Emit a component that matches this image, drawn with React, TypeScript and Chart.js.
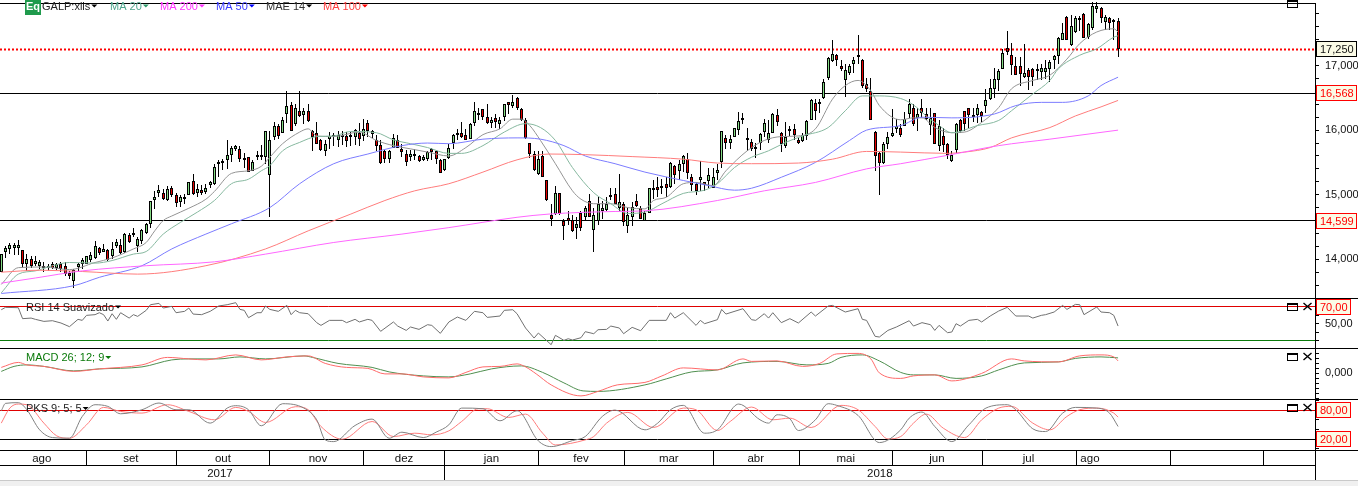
import React, { useEffect, useRef } from "react";
import { Chart, registerables } from "chart.js";

Chart.register(...registerables);

// ---- candles (Galp, daily, one entry per session) ----
const open = [
13.80,14.11,14.16,14.17,14.18,14.14,13.92,14.00,13.93,13.90,
13.90,13.86,13.93,13.87,13.92,13.89,13.78,13.66,13.88,13.93,
13.93,13.99,14.02,14.17,14.12,14.14,14.05,14.20,14.22,14.11,
14.38,14.37,14.20,14.28,14.40,14.55,14.92,15.02,15.02,14.92,
15.10,15.00,14.89,14.93,15.00,15.21,15.03,15.07,15.04,15.15,
15.17,15.48,15.49,15.54,15.62,15.70,15.71,15.53,15.59,15.37,
15.58,15.58,15.58,15.31,15.90,16.07,15.96,16.25,16.39,16.10,
16.30,16.24,16.30,15.99,15.95,15.85,15.67,15.86,15.89,15.85,
15.89,15.91,15.89,15.89,15.96,15.91,16.11,15.94,15.85,15.77,
15.67,15.56,15.73,15.85,15.71,15.63,15.59,15.60,15.60,15.54,
15.55,15.70,15.68,15.54,15.39,15.57,15.80,15.93,15.96,15.93,
15.87,16.11,16.24,16.32,16.21,16.11,16.19,16.09,16.20,16.43,
16.37,16.50,16.33,16.16,15.80,15.63,15.32,15.60,15.22,14.69,
14.70,15.02,14.59,14.64,14.61,14.48,14.72,14.65,14.90,14.45,
14.60,14.74,14.76,14.96,15.01,14.79,14.86,14.51,14.65,14.90,
14.80,14.60,14.72,15.11,15.12,15.10,15.17,15.12,15.44,15.36,
15.48,15.56,15.27,15.17,15.22,15.20,15.21,15.10,15.34,15.50,
15.88,15.80,15.89,16.00,16.16,15.88,15.82,15.71,15.80,15.97,
15.84,15.96,16.24,15.96,15.75,15.98,16.01,15.85,15.83,15.91,
16.16,16.42,16.41,16.49,16.80,17.07,17.16,16.99,16.78,16.88,
17.02,17.13,17.09,16.72,16.61,15.97,15.65,15.49,15.78,15.91,
16.02,16.04,16.07,16.25,16.34,16.19,16.35,16.25,16.08,16.26,
15.76,15.91,15.79,15.52,15.69,16.16,16.30,16.34,16.23,16.23,
16.28,16.38,16.48,16.64,16.78,16.95,17.27,17.16,16.99,16.99,
16.82,16.93,16.94,16.91,16.90,16.90,16.95,17.09,17.15,17.40,
17.75,17.32,17.52,17.71,17.80,17.45,17.58,17.88,17.89,17.67,
17.74,17.67,17.69];
const high = [
14.08,14.21,14.25,14.25,14.30,14.14,14.08,14.05,14.05,13.99,
13.95,13.93,13.95,13.94,13.95,13.95,13.82,13.85,13.94,14.02,
14.05,14.11,14.29,14.19,14.24,14.16,14.26,14.31,14.31,14.40,
14.40,14.48,14.34,14.47,14.56,14.91,15.06,15.15,15.09,15.14,
15.14,15.02,14.99,15.01,15.20,15.32,15.16,15.15,15.17,15.21,
15.48,15.54,15.55,15.84,15.75,15.77,15.75,15.65,15.59,15.53,
15.68,15.77,15.98,15.98,16.12,16.10,16.20,16.61,16.44,16.40,
16.60,16.34,16.41,16.00,16.13,15.87,15.85,15.97,15.95,15.98,
15.99,15.97,15.97,16.02,16.11,16.17,16.16,16.00,15.93,15.84,
15.69,15.69,15.94,15.92,15.79,15.69,15.69,15.70,15.62,15.62,
15.67,15.72,15.69,15.55,15.56,15.79,15.94,16.01,16.12,16.02,
16.11,16.43,16.35,16.33,16.41,16.21,16.25,16.21,16.41,16.43,
16.55,16.51,16.34,16.19,15.80,15.67,15.68,15.68,15.22,14.86,
15.14,15.02,14.62,14.74,14.69,14.66,14.75,14.82,15.01,14.80,
14.96,14.91,14.96,15.11,15.11,15.32,14.88,14.80,14.88,15.01,
14.82,14.75,15.11,15.23,15.28,15.25,15.27,15.50,15.46,15.53,
15.61,15.65,15.32,15.19,15.52,15.20,15.41,15.42,15.47,15.99,
15.92,15.92,16.04,16.28,16.27,16.04,15.86,15.80,15.95,16.17,
16.15,16.26,16.33,15.97,16.13,16.06,16.09,15.88,15.95,16.15,
16.48,16.48,16.48,16.79,17.13,17.39,17.18,17.09,17.02,17.03,
17.13,17.47,17.10,16.81,16.81,15.98,15.66,15.82,15.97,16.33,
16.17,16.10,16.28,16.48,16.41,16.35,16.48,16.35,16.34,16.27,
16.15,16.03,15.80,15.68,16.11,16.17,16.30,16.35,16.35,16.40,
16.29,16.64,16.79,16.97,16.95,17.26,17.53,17.35,17.14,17.13,
17.33,16.97,16.97,17.03,17.03,17.09,17.09,17.16,17.44,17.66,
17.76,17.78,17.76,17.77,17.81,17.66,17.99,17.99,17.91,17.78,
17.75,17.72,17.74];
const low = [
13.80,14.02,14.08,14.07,14.07,13.87,13.82,13.87,13.90,13.85,
13.80,13.82,13.85,13.83,13.80,13.74,13.69,13.55,13.81,13.85,
13.93,13.95,14.00,14.07,14.11,13.98,14.00,14.17,14.08,14.10,
14.25,14.35,14.11,14.24,14.39,14.49,14.78,14.96,14.92,14.91,
14.96,14.81,14.81,14.85,14.99,14.99,14.96,15.00,15.01,15.10,
15.15,15.27,15.38,15.40,15.50,15.67,15.50,15.42,15.35,15.36,
15.54,15.53,15.48,14.65,15.85,15.86,15.95,16.11,15.98,16.07,
16.20,16.10,16.12,15.68,15.78,15.68,15.60,15.70,15.76,15.74,
15.77,15.74,15.76,15.77,15.75,15.83,15.89,15.88,15.67,15.48,
15.49,15.49,15.72,15.72,15.58,15.44,15.52,15.53,15.51,15.52,
15.52,15.54,15.47,15.33,15.36,15.55,15.70,15.85,15.88,15.84,
15.86,16.06,16.15,16.15,16.09,16.04,16.04,16.02,16.14,16.25,
16.34,16.31,16.14,15.87,15.57,15.37,15.31,15.27,14.91,14.52,
14.69,14.68,14.30,14.53,14.42,14.31,14.44,14.60,14.65,14.11,
14.53,14.62,14.75,14.92,14.85,14.75,14.52,14.40,14.52,14.81,
14.62,14.60,14.71,14.93,14.96,15.01,14.96,15.10,15.17,15.22,
15.35,15.25,15.05,14.99,15.05,15.06,15.10,15.10,15.22,15.42,
15.71,15.71,15.89,15.93,16.10,15.68,15.68,15.57,15.69,15.89,
15.80,15.95,16.07,15.66,15.73,15.91,15.84,15.78,15.81,15.85,
16.16,16.15,16.26,16.48,16.78,17.06,16.99,16.91,16.52,16.86,
16.89,17.02,16.66,16.59,16.15,15.36,15.00,15.48,15.70,15.90,
15.95,15.90,16.06,16.19,16.06,15.98,16.19,16.15,15.93,15.78,
15.67,15.66,15.55,15.51,15.64,15.95,15.98,16.04,16.12,16.11,
16.12,16.27,16.46,16.49,16.61,16.94,17.16,16.85,16.85,16.69,
16.81,16.62,16.69,16.77,16.78,16.79,16.75,16.95,17.03,17.39,
17.39,17.31,17.51,17.54,17.42,17.41,17.55,17.82,17.66,17.55,
17.55,17.40,17.14];
const close = [
14.08,14.17,14.22,14.22,14.22,13.92,14.00,13.89,13.97,13.95,
13.86,13.90,13.87,13.93,13.85,13.77,13.74,13.83,13.93,13.99,
14.05,14.07,14.20,14.10,14.16,13.99,14.16,14.27,14.10,14.39,
14.26,14.41,14.31,14.45,14.55,14.91,14.97,15.07,14.93,15.09,
14.99,14.87,14.96,14.97,15.20,15.01,15.09,15.02,15.11,15.20,
15.43,15.51,15.52,15.62,15.72,15.75,15.56,15.57,15.35,15.51,
15.62,15.62,15.98,15.85,16.07,15.91,16.16,16.38,15.99,16.35,
16.22,16.29,16.14,15.89,15.79,15.69,15.78,15.91,15.93,15.93,
15.93,15.83,15.93,16.00,15.86,16.02,15.99,15.98,15.75,15.49,
15.56,15.68,15.88,15.73,15.66,15.50,15.63,15.63,15.52,15.58,
15.66,15.66,15.55,15.34,15.55,15.72,15.92,15.96,15.90,15.84,
16.10,16.29,16.27,16.20,16.11,16.15,16.13,16.16,16.40,16.39,
16.44,16.35,16.15,15.88,15.63,15.38,15.56,15.27,14.92,14.62,
15.02,14.70,14.51,14.60,14.43,14.54,14.49,14.80,14.66,14.69,
14.85,14.80,14.86,15.00,14.86,14.88,14.57,14.68,14.81,14.83,
14.63,14.71,15.10,15.07,15.08,15.13,15.10,15.49,15.30,15.48,
15.60,15.33,15.15,15.06,15.27,15.15,15.31,15.27,15.38,15.99,
15.80,15.86,16.03,16.14,16.19,15.84,15.71,15.74,15.94,16.11,
15.96,16.25,16.12,15.79,15.90,16.02,15.93,15.80,15.93,16.14,
16.47,16.29,16.44,16.75,17.12,17.18,17.08,16.95,16.93,16.99,
17.08,17.17,16.68,16.64,16.15,15.60,15.49,15.79,15.90,15.96,
16.07,15.93,16.17,16.41,16.10,16.25,16.27,16.17,16.19,15.79,
16.06,15.77,15.61,15.62,16.09,15.98,16.10,16.24,16.20,16.34,
16.22,16.46,16.65,16.79,16.92,17.20,17.21,17.01,16.86,16.87,
16.89,16.82,16.83,16.95,16.96,16.96,17.06,17.15,17.43,17.51,
17.40,17.61,17.74,17.74,17.43,17.64,17.93,17.92,17.74,17.75,
17.66,17.71,17.26];

// ---- moving averages: session index + value read at that session ----
const mae14Idx = [0,4,10,16,22,26,31,34,36,38,40,44,48,50,54,58,61,63,66,70,72,74,78,84,88,92,96,100,105,109,113,117,120,122,124,126.5,130,134,136,139,143,147,151,153,156,160,163,167,170,175,179,183,187,191,195,198,201,204,206,211,214,216,219,223,226,230,234,237,242,246,250,253,257,261,262];
const mae14Val = [13.61,13.87,13.88,13.84,13.95,14.02,14.16,14.26,14.44,14.60,14.67,14.79,14.93,15.05,15.33,15.37,15.44,15.58,15.79,15.97,16.02,15.91,15.90,15.97,15.84,15.76,15.71,15.66,15.60,15.73,15.93,16.02,16.17,16.17,16.07,15.84,15.48,15.06,14.93,14.86,14.86,14.80,14.78,14.91,14.96,15.17,15.19,15.14,15.37,15.68,15.84,15.90,15.91,16.02,16.48,16.69,16.77,16.61,16.38,16.16,16.19,16.19,16.04,15.96,15.97,16.12,16.35,16.64,16.77,16.85,17.10,17.34,17.52,17.57,17.52];
const ma20Idx = [0,4,8,12,16,22,26,31,34,38,42,46,50,54,58,61,63,66,70,74,78,82,88,92,96,100,105,108,113,118,123,126.5,130,134,139,143,147,151,155,160,165,168,172,176,180,184,188,194,198,202,206,211,214,217,220,223,229,234,237,242,246,248,253,257,261,262];
const ma20Val = [13.48,13.77,13.82,13.90,13.95,13.94,13.98,14.08,14.12,14.39,14.57,14.73,14.91,15.17,15.24,15.37,15.45,15.68,15.81,15.90,15.91,15.98,15.96,15.85,15.79,15.73,15.64,15.64,15.76,15.97,16.10,16.04,15.84,15.42,15.03,14.86,14.71,14.73,14.86,15.02,15.07,15.17,15.42,15.58,15.68,15.81,15.91,16.04,16.30,16.53,16.53,16.49,16.39,16.22,16.07,15.96,16.07,16.15,16.30,16.56,16.77,16.95,17.16,17.26,17.44,17.46];
const ma50Idx = [0,17,23,33,40,48,54,63,70,78,86,94,100,105,113,121,126.5,132,137,144,151,160,166,172,176,183,191,199,203,211,216,223,233,238,244,249,255,258,262];
const ma50Val = [13.47,13.59,13.72,13.90,14.16,14.39,14.55,14.80,15.17,15.48,15.63,15.76,15.80,15.79,15.86,15.88,15.86,15.76,15.60,15.48,15.35,15.22,15.14,15.07,15.10,15.27,15.50,15.84,16.00,16.07,16.20,16.19,16.25,16.38,16.43,16.43,16.53,16.69,16.82];
const ma100Idx = [0,9,19,32,48,62,72,82,90,97,105,113,121,128.5,137,148,160,168,176,187,195,203,211,222,226,232,237,246,252,258,262];
const ma100Val = [13.80,13.83,13.81,13.77,13.90,14.16,14.44,14.70,14.91,15.06,15.17,15.35,15.54,15.63,15.62,15.59,15.55,15.49,15.48,15.49,15.55,15.67,15.66,15.64,15.66,15.73,15.88,16.04,16.22,16.36,16.46];
const ma200Idx = [0,8,19,34,50,62,78,94,105,121,128.5,144,151,168,179,191,203,211,222,234,246,262];
const ma200Val = [13.63,13.71,13.82,13.90,13.96,14.08,14.26,14.39,14.49,14.65,14.70,14.74,14.75,14.91,15.06,15.19,15.40,15.48,15.61,15.76,15.86,16.00];

// ---- RSI 14 suavizado ----
const rsiIdx = [0,1,4,5,7,8,10,12,14,16,18,19,20,22,23,24,25,26,27,28,30,31,32,34,35,37,38,40,41,43,44,45,47,49,51,53,55,56,57,58,60,61,62,63,65,67,68,69,70,72,74,75,77,80,81,83,84,86,87,89,92,93,95,96,98,100,101,103,105,107,109,111,113,114,117,118,120,121,123,125,126,129,130,132,133,134,136,137,139,140,142,143,145,146,148,150,152,156,157,158,160,163,164,165,168,169,170,174,176,177,179,180,181,183,185,187,190,191,194,195,198,201,202,203,205,206,208,210,213,214,216,218,219,220,222,223,224,225,227,229,230,232,234,236,238,241,242,244,245,247,249,250,252,253,254,257,258,260,261,262];
const rsiVal = [66.4,69.2,68.8,55.9,56.6,55.1,52.7,53.5,50.8,46.5,55.1,53.9,59.8,60.6,62.9,60.6,53.1,61.7,55.1,62.9,56.6,60.6,58.6,65.7,72.3,73.9,68.4,70.4,62.9,64.5,68.4,61.3,60.6,64.5,70.8,72.3,74.7,66.8,65.7,57.0,62.9,62.9,70.8,66.8,64.5,71.5,60.6,65.7,62.9,61.7,51.2,48.0,53.9,53.9,51.2,55.1,52.0,55.1,53.9,41.0,52.0,47.2,42.1,46.1,43.3,48.8,48.0,38.6,52.0,57.8,53.9,64.5,62.9,57.4,59.0,65.7,66.4,61.7,44.9,33.1,39.0,25.3,36.3,30.4,32.3,30.8,33.5,40.6,38.2,42.9,43.3,47.2,44.9,38.2,45.7,41.7,53.9,53.9,62.9,56.6,62.9,48.0,53.9,50.0,54.7,66.8,61.3,67.6,54.7,53.9,61.7,56.6,62.9,51.2,55.9,50.8,63.7,59.0,70.8,71.5,63.7,67.6,55.1,53.9,35.1,34.3,42.1,46.1,53.5,47.2,51.2,48.8,42.1,48.0,39.4,40.2,50.0,47.2,53.9,55.1,52.0,59.0,64.9,69.2,59.0,59.0,56.6,59.8,60.6,63.7,71.5,66.8,72.7,72.3,60.6,69.6,63.7,62.9,59.8,47.2];

// ---- MACD 26; 12; 9 ----
const macdIdx = [0,4,6,10,17,23,33,39,44,48,55,61,67,72,76,81,86,90,94,99,105,109,113,117,121,123,125.5,129,136,140,144.5,151,155,160,168,174,176,182,188,192,196,201,204,206,211,214,219,223,230,237,240,248,253,258,261,262];
const macdVal = [0.12,0.22,0.17,0.14,0.04,0.09,0.17,0.32,0.29,0.27,0.37,0.27,0.33,0.35,0.20,0.12,0.10,-0.01,-0.01,-0.07,-0.09,0.02,0.13,0.14,0.19,0.13,-0.01,-0.23,-0.45,-0.36,-0.23,-0.18,-0.05,0.11,0.07,0.29,0.24,0.25,0.14,0.20,0.39,0.40,0.29,0.01,-0.10,-0.05,-0.03,-0.15,0.00,0.29,0.25,0.23,0.35,0.37,0.33,0.25];
const signalIdx = [0,3,6,10,17,23,33,40,44,51,56,62,71,73,79,87,91,99,105,110,115,122,127,132,136.5,140,151,156,162,168,174,182,189,194,197,202,206,211,214,219,224,230,234,240,248,252,258,262];
const signalVal = [0.04,0.14,0.17,0.14,0.05,0.09,0.13,0.27,0.29,0.29,0.33,0.29,0.35,0.32,0.20,0.12,0.03,-0.05,-0.07,-0.01,0.09,0.15,0.02,-0.19,-0.35,-0.36,-0.23,-0.11,0.03,0.07,0.21,0.24,0.17,0.20,0.32,0.37,0.25,0.02,-0.03,-0.03,-0.10,-0.05,0.07,0.21,0.23,0.30,0.33,0.31];

// ---- PKS 9; 5; 5 ----
const pksIdx = [0,1,4,6,9,12,16,19,22,25,28,33,37,41,44,49,53,55,58,61,66,71,74,76,78,83,87,91,94,99,102,105,108,113,117,121,126,129,134,137,141,144,151,154,157,160,165,168,173,178,180,182,185,187,191,194,196,201,206,211,213,216,219,223,227,231,236,238,242,245,249,252,257,260,262];
const pksVal = [78.6,93.8,95.2,80.7,39.3,23.4,22.0,66.9,91.0,87.6,72.4,80.7,94.5,80.7,80.7,53.1,84.1,89.0,80.7,47.6,93.1,84.1,60.0,18.6,15.1,48.3,61.4,22.0,34.5,23.4,34.5,49.6,84.1,82.8,57.9,78.6,16.5,4.8,17.2,25.5,66.9,80.0,39.3,53.1,80.7,89.7,32.4,39.3,92.4,60.0,53.1,70.3,62.1,37.9,60.0,93.1,89.7,69.0,13.1,39.3,63.4,75.9,46.2,15.1,49.6,84.1,91.0,80.7,41.4,35.8,73.8,85.5,84.1,73.8,46.2];
const pksSigIdx = [0,2,4,6,10,13,16,20,24,28,33,39,44,50,55,58,62,69,72,75,80,87,92,97,101,105,108,112,114,119,123,127,130,137,139,142,147,153,160,163,168,171,176,181,185,190,197,201,205,208,211,214,217,221,226,230,234,237,242,246,250,253,257,261,262];
const pksSigVal = [53.1,84.1,92.4,91.0,53.1,26.9,22.0,49.6,85.5,77.2,73.8,91.0,77.2,60.0,85.5,77.2,54.5,86.9,80.7,46.2,20.0,56.5,25.5,32.4,29.0,37.2,56.5,82.8,82.8,64.8,71.7,32.4,8.2,18.6,25.5,53.1,75.2,44.1,84.1,80.7,37.9,56.5,86.2,60.0,63.4,44.1,89.7,80.7,46.2,20.7,25.5,53.1,71.7,42.7,23.4,60.0,84.1,87.6,53.1,39.3,66.9,80.7,84.1,73.8,65.5];

// ---- horizontal levels ----
const priceLine = 17.25;
const supportLevels = [16.568, 14.599];
const rsiLevels = [70, 30];
const pksLevels = [80, 20];

// ---- axis ----
const mainTickValues = [13.4,13.6,13.8,14,14.2,14.4,14.6,14.8,15,15.2,15.4,15.6,15.8,16,16.2,16.4,16.6,16.8,17,17.2,17.4,17.6,17.8];
const mainLabelled = [14, 15, 16, 17];
const rsiTickValues = [30, 40, 50, 60, 70];
const macdTickValues = [-0.5,-0.4,-0.3,-0.2,-0.1,0,0.1,0.2,0.3,0.4];
const pksTickValues = [0, 20, 40, 60, 80, 100];
const monthNames = ["ago","set","out","nov","dez","jan","fev","mar","abr","mai","jun","jul","ago"];
const monthCentres = [9.5,30.4,52,74.3,94.5,115,136,156.6,177,198.1,219.5,241,255.4];
const monthBounds = [20,41,63,85,104,126,146.2,167.1,187.3,209.1,230.2,252.2,274.2,296.2];
const yearNames = ["2017","2018"];
const yearCentres = [51.3,206.1];
const yearBound = 104;
const X_MIN = -0.3, X_MAX = 308.2;

const FONT = "11px 'Liberation Sans', Arial, sans-serif";
const pts = (xs: number[], ys: number[]) => xs.map((x, i) => ({ x, y: ys[i] }));
const ma = (label: string, xs: number[], ys: number[], color: string, axis = "main") => ({
  type: "line", label, data: pts(xs, ys), yAxisID: axis, borderColor: color, borderWidth: 1,
  pointRadius: 0, cubicInterpolationMode: "monotone", order: 2, clip: false,
});
const jag = (label: string, xs: number[], ys: number[], color: string, axis: string) => ({
  type: "line", label, data: pts(xs, ys), yAxisID: axis, borderColor: color, borderWidth: 1,
  pointRadius: 0, tension: 0, order: 2, clip: false,
});
const smooth = (label: string, xs: number[], ys: number[], color: string, axis: string) => ({
  ...jag(label, xs, ys, color, axis), cubicInterpolationMode: "monotone",
});
const level = (y: number, axis: string, color: string, width = 1, dash: number[] = []) => ({
  type: "line", label: "level", snapLine: true, data: [{ x: X_MIN, y }, { x: X_MAX, y }], yAxisID: axis,
  borderColor: color, borderWidth: width, borderDash: dash, pointRadius: 0, order: 6,
});

const fixedTicks = (values: number[]) => (s: any) => { s.ticks = values.map((value) => ({ value })); };
const yAxis = (min: number, max: number, weight: number, values: number[], fmt: (v: number) => string) => ({
  type: "linear", axis: "y", position: "right", stack: "panels", stackWeight: weight, min, max,
  afterBuildTicks: fixedTicks(values),
  afterFit: (s: any) => { s.width = 43; s.paddingTop = 0; s.paddingBottom = 0; },
  grid: { drawOnChartArea: false, tickLength: 4, color: "#000", tickColor: "#000" },
  border: { color: "#000", display: true },
  ticks: { color: "#111", font: { family: "'Liberation Sans', Arial, sans-serif", size: 11 }, padding: 6, autoSkip: false, maxRotation: 0, callback: (v: number) => fmt(v) },
});
const xAxis = (centres: number[], names: string[], weight: number) => ({
  type: "linear", position: "bottom", min: X_MIN, max: X_MAX, offset: false, weight,
  afterBuildTicks: fixedTicks(centres),
  afterFit: (s: any) => { s.height = 15; s.paddingLeft = 0; s.paddingRight = 0; },
  grid: { display: false, drawTicks: false }, border: { display: false },
  ticks: { color: "#111", font: { family: "'Liberation Sans', Arial, sans-serif", size: 11.5 }, padding: 2, autoSkip: false, maxRotation: 0, includeBounds: false,
    callback: (_v: number, i: number) => names[i] },
});

const snapPlugin = {
  id: "snap",
  afterDatasetsUpdate(chart: any) {
    chart.data.datasets.forEach((ds: any, di: number) => {
      const meta = chart.getDatasetMeta(di);
      if (ds.snapBar) {
        meta.data.forEach((el: any) => {
          el.x = Math.floor(el.x) + 0.5;
          let top = Math.round(Math.min(el.y, el.base));
          let bot = Math.round(Math.max(el.y, el.base));
          if (bot - top < ds.snapBar) bot = top + ds.snapBar;
          el.y = top; el.base = bot; el.height = bot - top;
        });
      }
      if (ds.snapLine) {
        meta.data.forEach((el: any) => { el.y = Math.floor(el.y) + 0.5; });
      }
    });
  },
};

const decorPlugin = {
  id: "decor",
  afterDraw(chart: any) {
    const { ctx, scales, width } = chart;
    const ca = chart.chartArea;
    const hline = (y: number, x0: number, x1: number, c = "#000") => {
      ctx.fillStyle = c; ctx.fillRect(x0, Math.floor(y), x1 - x0, 1);
    };
    ctx.save();
    ctx.textBaseline = "middle";
    ctx.font = FONT;
    // panel frames
    hline(scales.main.top, 0, ca.right);
    [scales.rsi.top, scales.macd.top, scales.pks.top, scales.pks.bottom].forEach((y: number) => hline(y, 0, width));
    hline(scales.pks.bottom + 15, 0, ca.right);
    ctx.fillStyle = "#000";
    ctx.fillRect(Math.floor(ca.right), scales.pks.bottom, 1, 30);
    monthBounds.forEach((b) => {
      ctx.fillRect(Math.floor(scales.x.getPixelForValue(b)), scales.pks.bottom, 1, 15);
    });
    ctx.fillRect(Math.floor(scales.x.getPixelForValue(yearBound)), scales.pks.bottom + 15, 1, 15);
    // window edge
    ctx.fillStyle = "#c9c9c9"; ctx.fillRect(0, 480, width, 1);
    ctx.fillStyle = "#f0f0f0"; ctx.fillRect(0, 481, width, 5);

    // legend row
    const tri = (x: number, y: number, c: string) => {
      ctx.fillStyle = c; ctx.beginPath(); ctx.moveTo(x, y); ctx.lineTo(x + 6, y); ctx.lineTo(x + 3, y + 3); ctx.closePath(); ctx.fill();
    };
    const label = (t: string, x: number, y: number, c: string, tc = c) => {
      ctx.fillStyle = c; ctx.textAlign = "left"; ctx.fillText(t, x, y);
      tri(x + ctx.measureText(t).width + 1, y - 2, tc);
    };
    ctx.fillStyle = "#1f9a4c"; ctx.fillRect(25, 0, 16, 15);
    ctx.fillStyle = "#fff"; ctx.font = "bold 11px 'Liberation Sans', Arial, sans-serif"; ctx.textAlign = "center"; ctx.fillText("Eq", 33, 7);
    ctx.font = FONT;
    label("GALP:xlis", 42, 6.5, "#222", "#000");
    label("MA 20", 110, 6.5, "#4da58c", "#2e9a6a");
    label("MA 200", 160, 6.5, "#ff33ff");
    label("MA 50", 216, 6.5, "#3a3aff", "#0000ff");
    label("MAE 14", 266, 6.5, "#333", "#000");
    label("MA 100", 323, 6.5, "#ff4040", "#ff0000");
    label("RSI 14 Suavizado", 26, 307.5, "#222", "#000");
    label("MACD 26; 12; 9", 26, 358, "#0a7a0a", "#0a7a0a");
    label("PKS 9; 5; 5", 26, 409, "#222", "#000");

    // value tags
    const tag = (t: string, axis: any, v: number, w: number, c: string) => {
      const y = Math.round(axis.getPixelForValue(v));
      const h = 16;
      ctx.fillStyle = "#fbfbe6"; ctx.fillRect(1316, y - h / 2, w, h);
      ctx.strokeStyle = c; ctx.lineWidth = 1;
      ctx.strokeRect(1316.5, y - h / 2 + 0.5, w - 1, h - 1);
      ctx.fillStyle = c === "#000" ? "#111" : "#f00"; ctx.textAlign = "left";
      ctx.fillText(t, 1320, y + 0.5);
    };
    tag("17,250", scales.main, priceLine, 41, "#000");
    tag("16,568", scales.main, supportLevels[0], 41, "#f00");
    tag("14,599", scales.main, supportLevels[1], 41, "#f00");
    tag("70,00", scales.rsi, rsiLevels[0], 35, "#f00");
    tag("80,00", scales.pks, pksLevels[0], 35, "#f00");
    tag("20,00", scales.pks, pksLevels[1], 35, "#f00");

    // panel buttons
    const box = (y: number) => {
      ctx.strokeStyle = "#000"; ctx.lineWidth = 1;
      ctx.strokeRect(1287.5, y + 0.5, 10, 7);
      ctx.fillStyle = "#000"; ctx.fillRect(1287, y, 11, 2);
    };
    const cross = (y: number) => {
      ctx.strokeStyle = "#000"; ctx.lineWidth = 1.4; ctx.beginPath();
      ctx.moveTo(1303.5, y); ctx.lineTo(1311.5, y + 7); ctx.moveTo(1311.5, y); ctx.lineTo(1303.5, y + 7); ctx.stroke();
    };
    box(0);
    [303, 353, 404].forEach((y) => { box(y); cross(y); });
    ctx.restore();
  },
};

export default function App() {
  const ref = useRef<HTMLCanvasElement | null>(null);
  useEffect(() => {
    const idx = close.map((_, i) => i);
    const bodyColor = close.map((c, i) => (c >= open[i] ? "#86dc86" : "#e60000"));
    const chart = new Chart(ref.current as any, {
      type: "bar",
      data: {
        datasets: [
          level(supportLevels[0], "main", "#000"),
          level(supportLevels[1], "main", "#000"),
          level(priceLine, "main", "#f00", 2, [2, 2]),
          level(rsiLevels[0], "rsi", "#e00000"),
          level(rsiLevels[1], "rsi", "#0a7a0a"),
          level(pksLevels[0], "pks", "#e00000"),
          level(pksLevels[1], "pks", "#000"),
          { type: "bar", label: "wick", snapBar: 1, data: idx.map((i) => ({ x: i, y: [low[i], high[i]] })), yAxisID: "main",
            barThickness: 1, backgroundColor: "#000", borderWidth: 0, grouped: false, inflateAmount: 0, order: 5, clip: false },
          { type: "bar", label: "body", snapBar: 2, data: idx.map((i) => ({ x: i, y: [open[i], close[i]] })), yAxisID: "main",
            barThickness: 3, backgroundColor: bodyColor, borderColor: "#000", borderWidth: 1, borderSkipped: false, grouped: false, inflateAmount: 0, order: 4, clip: false },
          ma("MA 200", ma200Idx, ma200Val, "#ff66ff"),
          ma("MA 100", ma100Idx, ma100Val, "#ff7c7c"),
          ma("MA 50", ma50Idx, ma50Val, "#7c7cff"),
          ma("MA 20", ma20Idx, ma20Val, "#86b89f"),
          ma("MAE 14", mae14Idx, mae14Val, "#949494"),
          jag("RSI", rsiIdx, rsiVal, "#707070", "rsi"),
          smooth("MACD", macdIdx, macdVal, "#ff6a6a", "macd"),
          smooth("Sinal", signalIdx, signalVal, "#4f8f4f", "macd"),
          smooth("PKS", pksIdx, pksVal, "#808080", "pks"),
          smooth("PKS sinal", pksSigIdx, pksSigVal, "#ff7c7c", "pks"),
        ] as any,
      },
      options: {
        animation: false,
        responsive: false,
        events: [],
        layout: { padding: { top: 3, bottom: 6, left: 0, right: 0 } },
        plugins: { legend: { display: false }, tooltip: { enabled: false } },
        scales: {
          x: xAxis(monthCentres, monthNames, 0),
          xYear: xAxis(yearCentres, yearNames, 1),
          main: yAxis(13.4, 17.969, 295, mainTickValues, (v) => (mainLabelled.some((m) => Math.abs(m - v) < 1e-6) ? v.toFixed(3).replace(".", ",") : "")),
          rsi: yAxis(21.4, 80.2, 50, rsiTickValues, (v) => (v === 50 ? "50,00" : "")),
          macd: yAxis(-0.512, 0.508, 51, macdTickValues, (v) => (v === 0 ? "0,000" : "")),
          pks: yAxis(-2.2, 102.8, 51, pksTickValues, () => ""),
        } as any,
      } as any,
      plugins: [snapPlugin, decorPlugin],
    });
    return () => chart.destroy();
  }, []);
  return (
    <div style={{ position: "fixed", left: 0, top: 0, width: 1358, height: 486, background: "#fff" }}>
      <canvas ref={ref} width={1358} height={486} style={{ display: "block" }} />
    </div>
  );
}
